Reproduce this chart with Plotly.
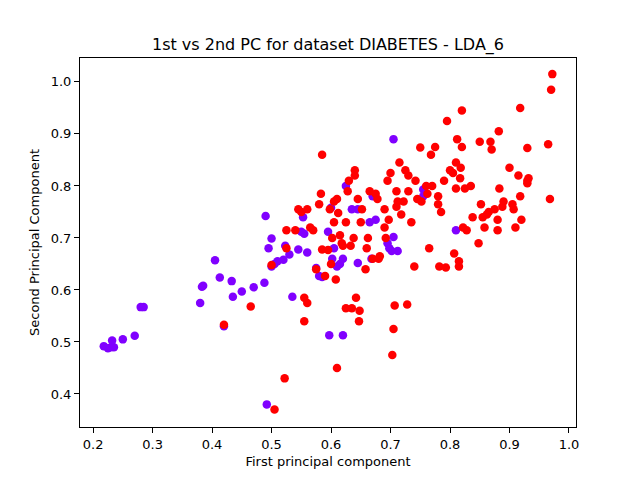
import plotly.graph_objects as go

# class 0 (purple) points
x_purple = [0.218, 0.225, 0.23, 0.232, 0.235, 0.25, 0.27, 0.28, 0.285,
            0.38, 0.383, 0.385, 0.405, 0.413, 0.42, 0.433, 0.435, 0.45, 0.47, 0.488,
            0.49, 0.492, 0.495, 0.5, 0.5, 0.505, 0.51, 0.52, 0.523, 0.53, 0.535,
            0.545, 0.55, 0.553, 0.555, 0.56, 0.575, 0.58, 0.585, 0.595, 0.6, 0.597,
            0.602, 0.605, 0.61, 0.615, 0.62, 0.62, 0.625, 0.635, 0.645, 0.645,
            0.665, 0.668, 0.67, 0.675, 0.695, 0.698, 0.702, 0.705, 0.705, 0.712,
            0.755, 0.755, 0.81]
y_purple = [0.492, 0.488, 0.49, 0.503, 0.49, 0.505, 0.512, 0.567, 0.567,
            0.575, 0.606, 0.608, 0.657, 0.624, 0.53, 0.617, 0.587, 0.597, 0.605, 0.614,
            0.742, 0.38, 0.68, 0.699, 0.645, 0.65, 0.655, 0.658, 0.685, 0.668, 0.587,
            0.678, 0.712, 0.74, 0.708, 0.672, 0.642, 0.627, 0.625, 0.712, 0.758, 0.513,
            0.66, 0.68, 0.645, 0.65, 0.66, 0.513, 0.8, 0.755, 0.755, 0.652,
            0.73, 0.66, 0.78, 0.735, 0.69, 0.68, 0.675, 0.89, 0.702, 0.675,
            0.793, 0.78, 0.715]

# class 1 (red) points
x_red = [0.42, 0.465, 0.5, 0.505, 0.522, 0.525, 0.525, 0.54, 0.545, 0.55, 0.555, 0.555,
         0.56, 0.56, 0.565, 0.57, 0.575, 0.58, 0.583, 0.585, 0.585, 0.59, 0.595, 0.598,
         0.6, 0.602, 0.605, 0.605, 0.608, 0.61, 0.61, 0.612, 0.615, 0.618, 0.62, 0.625,
         0.625, 0.628, 0.63, 0.633, 0.635, 0.638, 0.64, 0.64, 0.642, 0.645, 0.647, 0.648,
         0.65, 0.652, 0.658, 0.66, 0.662, 0.665, 0.67, 0.675, 0.678, 0.68, 0.682, 0.69,
         0.69, 0.692, 0.695, 0.697, 0.7, 0.703, 0.705, 0.707, 0.71, 0.71, 0.712, 0.715,
         0.718, 0.722, 0.725, 0.728, 0.73, 0.73, 0.735, 0.74, 0.742, 0.745, 0.75, 0.752,
         0.76, 0.762, 0.765, 0.768, 0.77, 0.775, 0.78, 0.78, 0.782, 0.785, 0.79, 0.793,
         0.795, 0.8, 0.805, 0.807, 0.81, 0.81, 0.812, 0.815, 0.815, 0.817, 0.818, 0.82,
         0.82, 0.822, 0.825, 0.828, 0.835, 0.838, 0.848, 0.85, 0.852, 0.855, 0.858, 0.862,
         0.865, 0.868, 0.87, 0.875, 0.88, 0.88, 0.882, 0.883, 0.888, 0.89, 0.9, 0.905,
         0.907, 0.91, 0.915, 0.918, 0.918, 0.92, 0.93, 0.93, 0.932, 0.93, 0.965, 0.968,
         0.97, 0.972]
y_red = [0.533, 0.568, 0.648, 0.37, 0.43, 0.68, 0.715, 0.715, 0.755, 0.75, 0.585, 0.54,
         0.575, 0.755, 0.72, 0.715, 0.64, 0.765, 0.785, 0.86, 0.678, 0.627, 0.677, 0.755,
         0.65, 0.7, 0.77, 0.73, 0.62, 0.45, 0.775, 0.748, 0.705, 0.69, 0.685, 0.565,
         0.73, 0.79, 0.81, 0.685, 0.565, 0.7, 0.82, 0.83, 0.585, 0.775, 0.54, 0.56,
         0.73, 0.755, 0.64, 0.68, 0.7, 0.79, 0.66, 0.785, 0.775, 0.66, 0.665, 0.755,
         0.72, 0.7, 0.81, 0.735, 0.825, 0.475, 0.525, 0.57, 0.79, 0.76, 0.77, 0.845,
         0.745, 0.77, 0.83, 0.572, 0.82, 0.79, 0.73, 0.645, 0.81, 0.775, 0.874, 0.77,
         0.8, 0.785, 0.68, 0.86, 0.8, 0.875, 0.78, 0.765, 0.645, 0.75, 0.81, 0.643,
         0.925, 0.83, 0.825, 0.67, 0.845, 0.795, 0.89, 0.655, 0.645, 0.815, 0.835, 0.875,
         0.945, 0.72, 0.795, 0.715, 0.8, 0.74, 0.69, 0.885, 0.765, 0.74, 0.72, 0.745,
         0.75, 0.885, 0.87, 0.755, 0.715, 0.735, 0.905, 0.795, 0.76, 0.77, 0.835, 0.765,
         0.755, 0.72, 0.82, 0.95, 0.78, 0.735, 0.81, 0.873, 0.815, 0.805, 0.88, 0.775,
         0.985, 1.015]

x_ticks = [0.2, 0.3, 0.4, 0.5, 0.6, 0.7, 0.8, 0.9, 1.0]
y_ticks = [0.4, 0.5, 0.6, 0.7, 0.8, 0.9, 1.0]

fig = go.Figure()
fig.add_trace(go.Scatter(x=x_purple, y=y_purple, mode="markers",
                         marker=dict(color="#8000ff", size=8.5, line=dict(width=0)),
                         showlegend=False))
fig.add_trace(go.Scatter(x=x_red, y=y_red, mode="markers",
                         marker=dict(color="#ff0000", size=8.5, line=dict(width=0)),
                         showlegend=False))

axis_common = dict(showline=True, linecolor="black", linewidth=1, mirror=True,
                   ticks="outside", ticklen=5, tickwidth=1, tickcolor="black",
                   showgrid=False, zeroline=False, automargin=False,
                   tickfont=dict(size=13, color="black"))

fig.update_layout(
    width=640, height=480,
    paper_bgcolor="white", plot_bgcolor="white",
    font=dict(family="DejaVu Sans", color="black"),
    margin=dict(l=72, r=72, t=50, b=61),
    title=dict(text="1st vs 2nd PC for dataset DIABETES - LDA_6",
               x=(328 - 8) / 640, xanchor="center", xref="container",
               y=1 - 36 / 480, yanchor="middle", yref="container",
               font=dict(size=16, color="black")),
)
fig.update_xaxes(range=[0.178, 1.0118], tickvals=x_ticks,
                 ticktext=[f"{v:.1f}" for v in x_ticks],
                 title=dict(text="First principal component", font=dict(size=13), standoff=6),
                 **axis_common)
fig.update_yaxes(range=[0.3365, 1.046], tickvals=y_ticks,
                 ticktext=[f"{v:.1f}" for v in y_ticks],
                 title=dict(text="Second Principal Component", font=dict(size=13), standoff=8),
                 **axis_common)

fig.write_html("out.html")
